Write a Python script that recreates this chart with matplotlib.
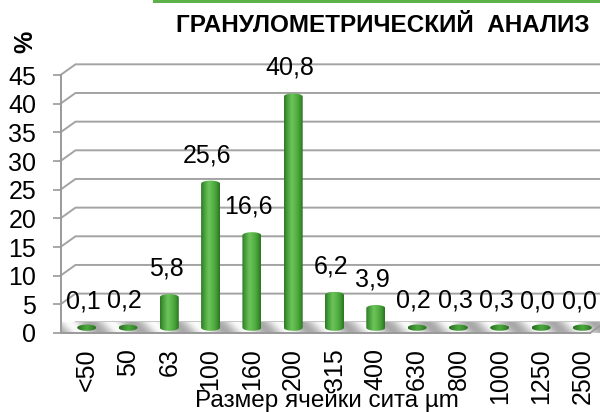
import numpy as np
import matplotlib
matplotlib.use('Agg')
import matplotlib.pyplot as plt
from matplotlib.path import Path
from matplotlib.patches import PathPatch, Polygon, Rectangle
from matplotlib.colors import LinearSegmentedColormap

plt.rcParams['font.family'] = ['Liberation Sans', 'DejaVu Sans']

sizes = ['<50', '50', '63', '100', '160', '200', '315', '400', '630', '800', '1000', '1250', '2500']
percent = [0.1, 0.2, 5.8, 25.6, 16.6, 40.8, 6.2, 3.9, 0.2, 0.3, 0.3, 0.0, 0.0]
yticks = [0, 5, 10, 15, 20, 25, 30, 35, 40, 45]

# 3d look: depth offset of the back wall (data units)
dx, dy = 0.363, 1.87
bar_w = 0.46
ry = 0.55  # vertical radius of the cylinder ellipses

fig = plt.figure(figsize=(6, 4.12), dpi=100)
ax = fig.add_axes([60.5 / 600, 79 / 412, 539.5 / 600, 270 / 412])
x0, x1 = -0.453, 12.61
ax.set_xlim(x0, x1)
ax.set_ylim(0, 47.1)
for s in ['top', 'right', 'bottom']:
    ax.spines[s].set_visible(False)
ax.spines['left'].set_bounds(0, 45)
ax.spines['left'].set_color('#9a9a9a')
ax.spines['left'].set_linewidth(1.4)

# back wall gridlines
for v in yticks[1:]:
    ax.plot([x0, x0 + dx, x1 + 1], [v, v + dy, v + dy], color='#a3a3a3', lw=1.4,
            clip_on=False, zorder=1)

# striped floor
floor_pts = [(x0, 0), (x0 + dx, dy), (12.73, dy), (12.37, 0)]
floor = Polygon(floor_pts, closed=True, facecolor='#c4c4c4', edgecolor='#9a9a9a',
                lw=1.2, clip_on=False, zorder=2)
ax.add_patch(floor)
gx = np.linspace(x0, 12.8, 1200)
gy = np.linspace(0, dy, 30)
GX, GY = np.meshgrid(gx, gy)
stripes = 0.5 + 0.5 * np.cos(2 * np.pi * (GX * 41.3 + GY * 5.73) / 42)
cm_floor = LinearSegmentedColormap.from_list('floor', ['#a9a9a9', '#d0d0d0', '#fbfbfb'])
im = ax.imshow(stripes, extent=[x0, 12.8, 0, dy], origin='lower', cmap=cm_floor,
               aspect='auto', zorder=2.5, clip_on=False)
im.set_clip_path(floor)
ax.plot([x0, 12.37], [0, 0], color='#9a9a9a', lw=1.4, clip_on=False, zorder=3)
ax.plot([12.37, 12.73], [0, dy], color='#9a9a9a', lw=1.2, clip_on=False, zorder=3)

# cylinders
cm_bar = LinearSegmentedColormap.from_list(
    'bar', ['#2f7a26', '#4da43f', '#6cc35a', '#5cb64a', '#44a036', '#2c7423'])
cm_flat = LinearSegmentedColormap.from_list(
    'flat', ['#27691f', '#3a8f2e', '#4fa642', '#3d9431', '#2a6e21'])
grad = np.linspace(0, 1, 64).reshape(1, -1)
t = np.linspace(0, np.pi, 30)
for i, v in enumerate(percent):
    cx = i + dx / 2
    base = dy / 2
    top = base + max(v - 0.5, 0)
    hw = bar_w / 2
    # outline: lower half ellipse at base, sides, upper half ellipse at top
    bottom_arc = np.column_stack([cx - hw * np.cos(t), base - ry * np.sin(t)])
    top_arc = np.column_stack([cx + hw * np.cos(t), top + ry * np.sin(t)])
    verts = np.vstack([bottom_arc, top_arc, bottom_arc[:1]])
    patch = PathPatch(Path(verts), facecolor='none', edgecolor='none', zorder=4)
    ax.add_patch(patch)
    body = ax.imshow(grad, extent=[cx - hw, cx + hw, base - ry, top + ry],
                     cmap=cm_bar if v > 1 else cm_flat,
                     aspect='auto', zorder=4, interpolation='bilinear')
    body.set_clip_path(patch)
    label = ('%.1f' % v).replace('.', ',')
    ax.text(cx - 0.08, base + v + 2.4, label, ha='center', va='bottom', fontsize=18,
            zorder=6)

ax.set_xlim(x0, x1)
ax.set_ylim(0, 47.1)

ax.set_yticks(yticks)
ax.set_yticklabels([str(v) for v in yticks], fontsize=18)
ax.tick_params(axis='y', direction='out', length=5.5, width=1.2, color='#9a9a9a', pad=12)
ax.set_xticks([i + dx / 2 for i in range(len(sizes))])
ax.set_xticklabels(sizes, rotation=90, fontsize=18)
ax.tick_params(axis='x', length=0, pad=11)

fig.text(327 / 600, 1 - 401 / 412, 'Размер ячейки сита µm', ha='center', va='center',
         fontsize=17.5)
fig.text(590 / 600, 1 - 25 / 412, 'ГРАНУЛОМЕТРИЧЕСКИЙ  АНАЛИЗ', ha='right', va='center',
         fontsize=17.5, fontweight='bold')
fig.text(25 / 600, 1 - 42 / 412, '%', rotation=90, ha='center', va='center',
         fontsize=18, fontweight='bold')
fig.add_artist(Rectangle((153 / 600, 1 - 2.5 / 412), 447 / 600, 2.5 / 412,
                         transform=fig.transFigure, facecolor='#5cb148', edgecolor='none'))

fig.savefig('out.png', dpi=100)
